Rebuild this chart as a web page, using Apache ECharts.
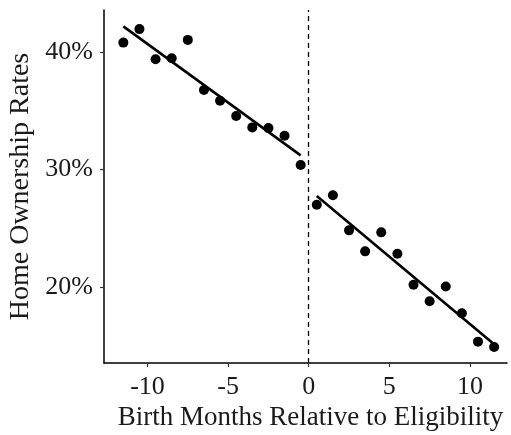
<!DOCTYPE html>
<html><head><meta charset="utf-8">
<script src="https://cdn.jsdelivr.net/npm/echarts@6/dist/echarts.min.js"></script>
<style>html,body{margin:0;padding:0;background:#fff}#c{width:511px;height:435px}</style>
</head><body><div id="c"></div>
<script>
var monthsLeft = [-11.5,-10.5,-9.5,-8.5,-7.5,-6.5,-5.5,-4.5,-3.5,-2.5,-1.5,-0.5];
var ratesLeft = [40.82,41.97,39.4,39.49,41.05,36.78,35.86,34.56,33.59,33.53,32.87,30.39];
var monthsRight = [0.5,1.5,2.5,3.5,4.5,5.5,6.5,7.5,8.5,9.5,10.5,11.5];
var ratesRight = [27.0,27.8,24.81,23.02,24.64,22.82,20.17,18.77,20.03,17.74,15.32,14.87];
var fitLeftX = [-11.5,-0.5];
var fitLeftY = [42.2,31.2];
var fitRightX = [0.5,11.5];
var fitRightY = [27.75,15.1];
var xTicks = [-10,-5,0,5,10];
var yTicks = [20,30,40];
var cutoff = 0;

function pairs(xs, ys){ return xs.map(function(x,i){ return [x, ys[i]]; }); }
var FONT = 'Liberation Serif';
var TXT = '#1a1a1a';
var chart = echarts.init(document.getElementById('c'), null, {renderer:'canvas'});
chart.setOption({
  animation:false,
  backgroundColor:'#fff',
  grid:{left:104,right:4,top:10,bottom:72,containLabel:false,outerBoundsMode:'none'},
  xAxis:{type:'value',min:-12.7,max:12.3,
    name:'Birth Months Relative to Eligibility',nameLocation:'middle',nameGap:38,
    nameTextStyle:{fontFamily:FONT,fontSize:27,color:TXT,padding:[0,0,0,10]},
    axisLine:{show:true,onZero:false,lineStyle:{color:'#000',width:1.5}},
    axisTick:{show:true,length:4,lineStyle:{color:'#333',width:1.2},customValues:xTicks},
    axisLabel:{fontFamily:FONT,fontSize:26,color:TXT,margin:11,customValues:xTicks},
    splitLine:{show:false}},
  yAxis:{type:'value',min:13.5,max:43.6,
    name:'Home Ownership Rates',nameLocation:'middle',nameGap:68,
    nameTextStyle:{fontFamily:FONT,fontSize:28,color:TXT},
    axisLine:{show:true,onZero:false,lineStyle:{color:'#000',width:1.5}},
    axisTick:{show:true,length:4,lineStyle:{color:'#333',width:1.2},customValues:yTicks},
    axisLabel:{fontFamily:FONT,fontSize:26,color:TXT,margin:11,customValues:yTicks,formatter:'{value}%'},
    splitLine:{show:false}},
  series:[
    {type:'scatter',data:pairs(monthsLeft,ratesLeft),symbolSize:10,itemStyle:{color:'#000',opacity:1},z:3,
      markLine:{silent:true,symbol:'none',label:{show:false},lineStyle:{color:'#000',type:[5,4],width:1.3},data:[{xAxis:cutoff}]}},
    {type:'scatter',data:pairs(monthsRight,ratesRight),symbolSize:10,itemStyle:{color:'#000',opacity:1},z:3},
    {type:'line',data:pairs(fitLeftX,fitLeftY),symbol:'none',lineStyle:{color:'#000',width:2.6},z:4},
    {type:'line',data:pairs(fitRightX,fitRightY),symbol:'none',lineStyle:{color:'#000',width:2.6},z:4}
  ]
});
</script></body></html>
